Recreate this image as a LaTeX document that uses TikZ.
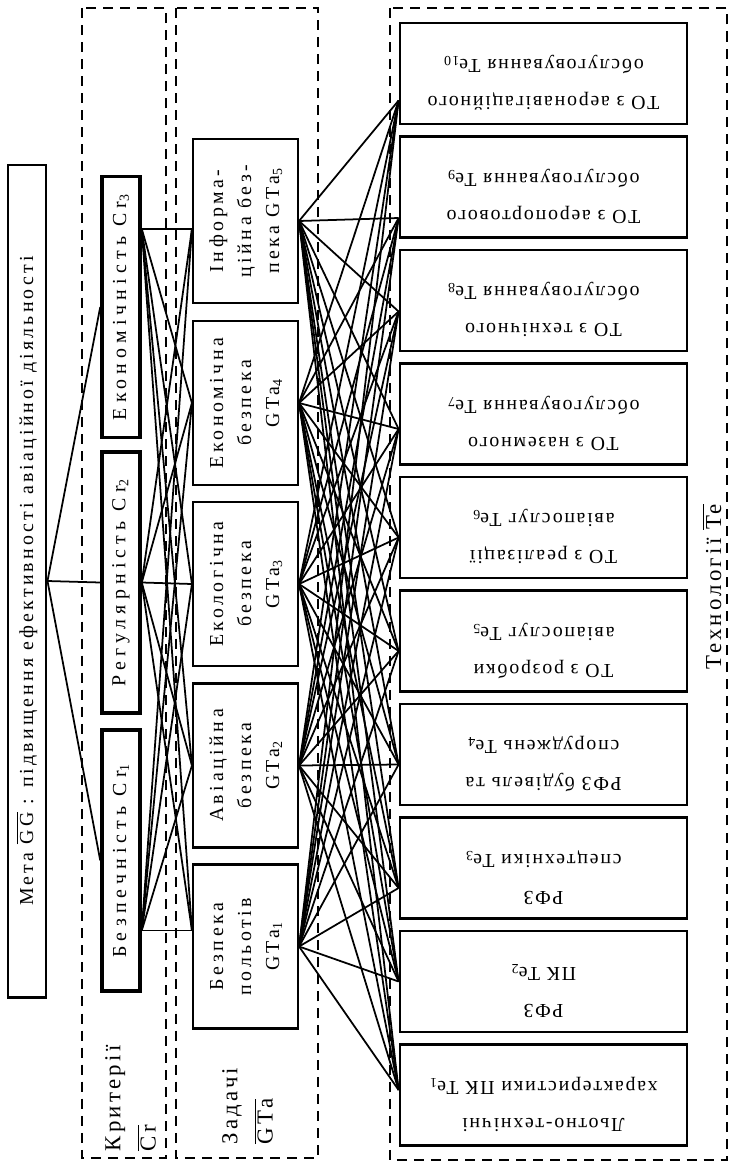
\documentclass[tikz,border=0pt]{standalone}
\usepackage{graphicx}
\usepackage{fontspec}
\setmainfont{Liberation Serif}
\newfontfamily\goalfnt[LetterSpace=16]{Liberation Serif}
\newfontfamily\critfnt[LetterSpace=26]{Liberation Serif}
\newfontfamily\taskfnt[LetterSpace=18]{Liberation Serif}
\newfontfamily\techfnt[LetterSpace=9]{Liberation Serif}
\newfontfamily\lblfnt[LetterSpace=14]{Liberation Serif}
\usetikzlibrary{calc}
\newcommand{\pxl}{0.02cm}
\newcommand{\ovl}[1]{$\overline{\mbox{#1}}$}

\begin{document}
\begin{tikzpicture}[x=0.02cm,y=-0.02cm,line width=1pt,
  frame/.style={line width=1.1pt,dash pattern=on 5.7pt off 4pt},
  goalbox/.style={draw,line width=1.7pt,inner sep=0pt,minimum width=38*\pxl,minimum height=832*\pxl,
    font=\goalfnt\fontsize{11.3pt}{14pt}\selectfont},
  critbox/.style={draw,line width=2pt,inner sep=0pt,minimum width=38*\pxl,minimum height=261*\pxl,
    font=\critfnt\fontsize{11.3pt}{14pt}\selectfont},
  taskbox/.style={draw,line width=1.2pt,inner sep=0pt,minimum width=105*\pxl,minimum height=164*\pxl,
    font=\taskfnt\fontsize{11.3pt}{16pt}\selectfont},
  techbox/.style={draw,line width=1.6pt,inner sep=0pt,minimum width=287*\pxl,minimum height=101*\pxl},
  techtext/.style={inner sep=0pt,font=\techfnt\fontsize{11.3pt}{21pt}\selectfont},
  grplabel/.style={inner sep=0pt,font=\lblfnt\fontsize{13pt}{20pt}\selectfont},
  link/.style={line width=1pt}]
\useasboundingbox (0,0) rectangle (730,1162);
% ---------- dashed group frames ----------
\draw[frame] (82,8) rectangle (166,1158);
\draw[frame] (176,8) rectangle (318,1158);
\draw[frame] (390,8) rectangle (727,1160);
\node[grplabel,anchor=south west] (crlab) at (95,1152)
  {\rotatebox{90}{\begin{tabular}{@{}l@{}}Критерії\\\ovl{Cr}\end{tabular}}};
\node[grplabel,anchor=south west] (talab) at (212,1145)
  {\rotatebox{90}{\begin{tabular}{@{}l@{}}Задачі\\\ovl{GTa}\end{tabular}}};
\node[grplabel] (telab) at (712,587) {\rotatebox{90}{Технології \ovl{Te}}};
% ---------- goal ----------
\node[goalbox] (goal) at (27,581)
  {\rotatebox{90}{Мета \ovl{GG} : підвищення ефективності авіаційної діяльності}};
% ---------- criteria ----------
\foreach \n/\yc/\txt in {1/860.5/Безпечність, 2/582.5/Регулярність, 3/307/Економічність}{
  \node[critbox] (cr\n) at (121,\yc) {\rotatebox{90}{\txt\ Cr\textsubscript{\n}}};
}
% ---------- tasks ----------
\foreach \n/\yc/\txt in {
  1/946.5/{Безпека\\польотів\\GTa\textsubscript{1}},
  2/765.5/{Авіаційна\\безпека\\GTa\textsubscript{2}},
  3/584/{Екологічна\\безпека\\GTa\textsubscript{3}},
  4/403/{Економічна\\безпека\\GTa\textsubscript{4}},
  5/221/{Інформа-\\ційна без-\\пека GTa\textsubscript{5}}}{
  \node[taskbox] (gta\n) at (245.5,\yc)
    {\rotatebox{90}{\begin{tabular}{@{}c@{}}\txt\end{tabular}}};
}
% ---------- technologies (text upside down) ----------
\foreach \n/\yc/\d/\txt in {
  1/1095/-5/{Льотно-технічні\\характеристики ПК Te\textsubscript{1}},
  2/981.5/0/{РФЗ\\ПК Te\textsubscript{2}},
  3/868/20/{РФЗ\\спецтехніки Te\textsubscript{3}},
  4/754.5/10/{РФЗ будівель та\\споруджень Te\textsubscript{4}},
  5/641/10/{ТО з розробки\\авіапослуг Te\textsubscript{5}},
  6/527.5/10/{ТО з реалізації\\авіапослуг Te\textsubscript{6}},
  7/414/15/{ТО з наземного\\обслуговування Te\textsubscript{7}},
  8/300.5/11/{ТО з технічного\\обслуговування Te\textsubscript{8}},
  9/187/31/{ТО з аеропортового\\обслуговування Te\textsubscript{9}},
  10/73.5/27/{ТО з аеронавігаційного\\обслуговування Te\textsubscript{10}}}{
  \node[techbox] (te\n) at (543.5,\yc) {};
  \node[techtext] (tt\n) at ($(te\n)+(0,12)$)
    {\rotatebox{180}{\begin{tabular}{@{}c@{}}\txt\end{tabular}}};
  \coordinate (tin\n) at ($(te\n.west)+(0,\d)$);
}
% ---------- connectors ----------
\foreach \c in {1,2,3} \draw[link] (goal.east) -- (cr\c.west);
\coordinate (co3) at ($(cr3.east)+(0,-78)$);
\coordinate (co2) at (cr2.east);
\coordinate (co1) at ($(cr1.east)+(0,70)$);
\coordinate (ti5) at ($(gta5.west)+(0,8)$);
\coordinate (ti4) at (gta4.west);
\coordinate (ti3) at (gta3.west);
\coordinate (ti2) at (gta2.west);
\coordinate (ti1) at ($(gta1.west)+(0,-16)$);
\foreach \c in {1,2,3}
  \foreach \t in {1,...,5} \draw[link] (co\c) -- (ti\t);
\foreach \t in {1,...,5}
  \foreach \e in {1,...,10} \draw[link] (gta\t.east) -- (tin\e);
\end{tikzpicture}
\end{document}
